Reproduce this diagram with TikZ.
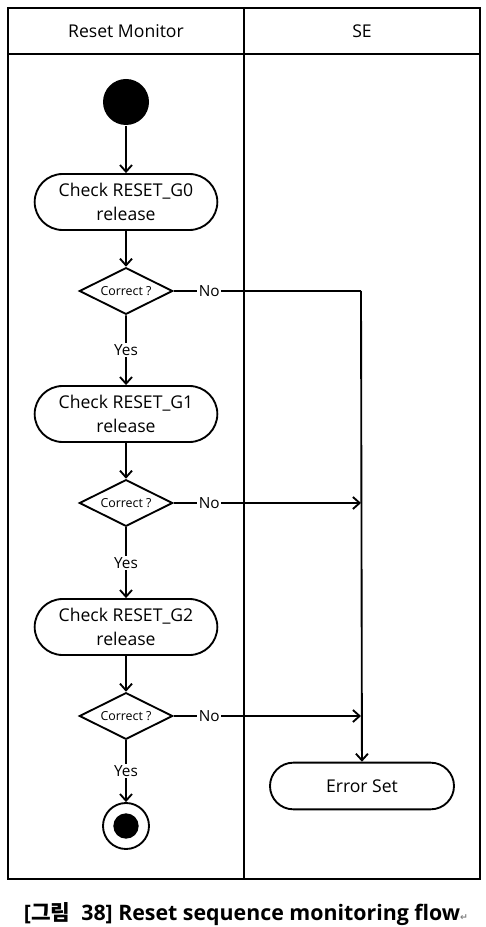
\documentclass[tikz,border=0pt]{standalone}
\usepackage{fontspec}
\setmainfont{Open Sans}
\newfontfamily\kofont{Noto Sans CJK KR}
\newfontfamily\symfont{DejaVu Sans}
\usetikzlibrary{arrows.meta}
\usetikzlibrary{shapes.geometric,shapes.misc}

\begin{document}
\begin{tikzpicture}
[x=0.75pt,y=-0.75pt,>={Straight Barb[length=5pt,width=9pt]},line width=1.4pt,
 every node/.style={font=\fontsize{13.2}{18}\selectfont},
 action/.style={rounded rectangle,draw,align=center,minimum width=141pt,minimum height=42pt,inner sep=2pt},
 decision/.style={diamond,draw,aspect=2,minimum width=70pt,minimum height=35pt,inner sep=0pt,font=\fontsize{9.3}{10}\selectfont},
 startnode/.style={circle,fill=black,minimum size=34.5pt,inner sep=0pt},
 endnode/.style={circle,draw,minimum size=34.5pt,inner sep=0pt,
   path picture={\fill (path picture bounding box.center) circle (9.5pt);}},
 lbl/.style={fill=white,inner sep=1pt,font=\fontsize{11.5}{13}\selectfont}]

\useasboundingbox (0,0) rectangle (485,927);

% swimlanes
\draw[line width=1.7pt] (8,8) rectangle (480,879);
\draw[line width=1.7pt] (8,54) -- (480,54);
\draw[line width=1.7pt] (244,8) -- (244,879);
\node (laneRM) at (126,31) {Reset Monitor};
\node (laneSE) at (362,31) {SE};

\node[startnode] (start) at (126,102) {};

\node[action] (chk0) at (126,202) {Check RESET\_G0\\release};
\node[decision] (dec0) at (126,291) {Correct ?};

\node[action] (chk1) at (126,414) {Check RESET\_G1\\release};
\node[decision] (dec1) at (126,503) {Correct ?};

\node[action] (chk2) at (126,627) {Check RESET\_G2\\release};
\node[decision] (dec2) at (126,716) {Correct ?};

\node[endnode] (end) at (126,826) {};

\node[action,minimum height=35pt,minimum width=142pt] (err) at (362,786) {Error Set};

\coordinate (j0) at (361,291);
\coordinate (j1) at (361,503);
\coordinate (j2) at (361,716);

\draw[->] (start) -- (chk0);
\draw[->] (chk0) -- (dec0);
\draw[->] (dec0) -- node[lbl] {Yes} (chk1);
\draw[->] (chk1) -- (dec1);
\draw[->] (dec1) -- node[lbl] {Yes} (chk2);
\draw[->] (chk2) -- (dec2);
\draw[->] (dec2) -- node[lbl] {Yes} (end);

\draw (dec0) -- node[lbl,pos=0.19] {No} (j0);
\draw[->] (j0) -- (err);
\draw[->] (dec1) -- node[lbl,pos=0.19] {No} (j1);
\draw[->] (dec2) -- node[lbl,pos=0.19] {No} (j2);

% caption
\node[font=\fontsize{16}{18}\selectfont\bfseries] (caption) at (246,914)
  {[{\kofont\bfseries 그림}~~38] Reset sequence monitoring flow{\symfont\fontsize{7}{7}\selectfont\color{gray}↵}};

\end{tikzpicture}
\end{document}
